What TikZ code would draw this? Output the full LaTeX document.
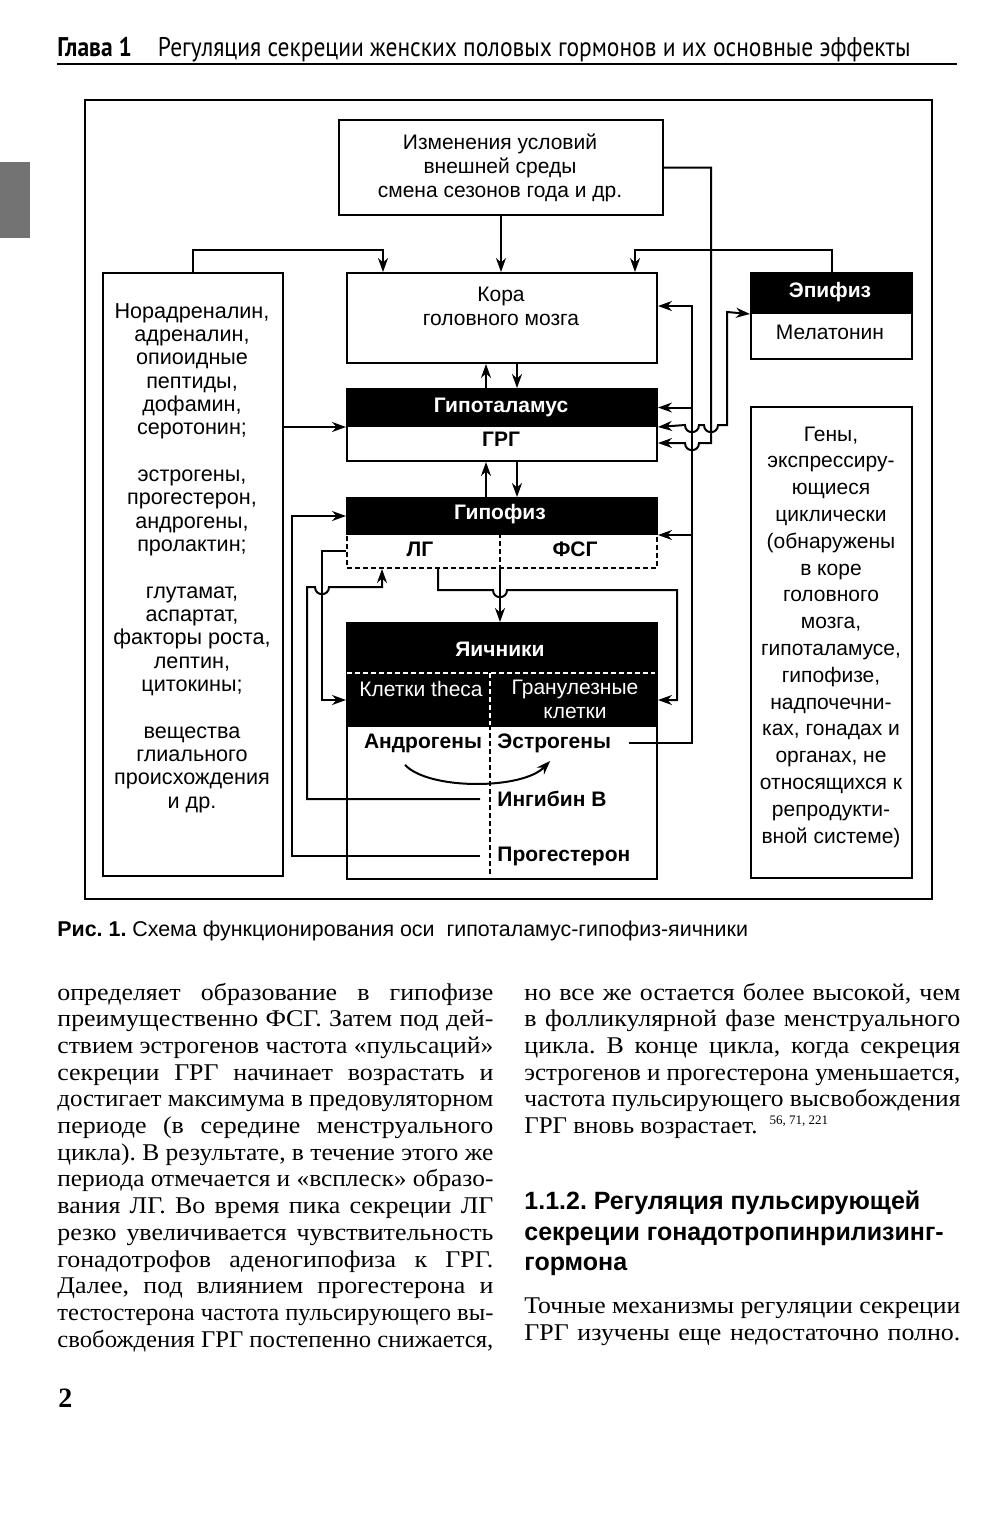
\documentclass[tikz,border=0pt]{standalone}
\usepackage{fontspec}
\usepackage{graphicx}
\setmainfont{Liberation Serif}
\setsansfont{Liberation Sans}
\newfontfamily\hdrfont[FakeStretch=0.87]{PT Sans}
\usetikzlibrary{arrows.meta}
\frenchspacing
\newlength\colw \setlength\colw{218pt}
\newdimen\jlw
\newcommand\jl[1]{\setbox0=\hbox{#1}%
  \ifdim\wd0>\colw \resizebox{\colw}{\height}{#1}%
  \else
    \jlw=\dimexpr\colw*100/108\relax
    \ifdim\wd0>\jlw \resizebox{\colw}{\height}{#1}%
    \else \resizebox{\colw}{\height}{\makebox[\jlw][s]{#1}}%
    \fi
  \fi}
\begin{document}
\begin{tikzpicture}[x=0.5pt,y=-0.5pt,
  box/.style={draw, line width=1pt, inner sep=0pt, anchor=north west},
  blk/.style={box, fill=black},
  arr/.style={line width=1pt, -{Stealth[length=7pt,width=5pt]}},
  darr/.style={line width=1pt, {Stealth[length=7pt,width=5pt]}-{Stealth[length=7pt,width=5pt]}},
  ln/.style={line width=1pt},
  dt/.style={font=\sffamily\fontsize{10.5}{12}\selectfont, inner sep=0pt, align=center},
  wb/.style={dt, text=white, font=\sffamily\bfseries\fontsize{10.5}{12}\selectfont},
  bb/.style={dt, font=\sffamily\bfseries\fontsize{10.5}{12}\selectfont},
  body/.style={anchor=base west, inner sep=0pt, font=\fontsize{12}{13.35}\selectfont},
  dsh/.style={dash pattern=on 2.5pt off 1.5pt}]
\useasboundingbox (0,0) rectangle (1000,1522);

% header
\node[anchor=base west, inner sep=0pt] (hdr) at (57,56) {\hdrfont\fontsize{13.5}{15}\selectfont\textbf{Глава 1}\hspace{13pt}Регуляция секреции женских половых гормонов и их основные эффекты};
\draw[line width=0.7pt] (57,64) -- (957,64);
\fill[black!55] (0,162) rectangle (30,238);

% frame
\node[box, line width=0.8pt, minimum width=423.5pt, minimum height=399.5pt] (frame) at (84,99) {};

% boxes
\node[box, minimum width=162pt, minimum height=47.5pt] (env) at (338,119) {};
\node[dt] (envT) at (500,168) {Изменения условий\\внешней среды\\смена сезонов года и др.};
\node[box, minimum width=155pt, minimum height=45pt] (kora) at (346,272) {};
\node[dt] (koraT) at (501,306) {Кора\\головного мозга};
\node[box, minimum width=90pt, minimum height=301.5pt] (lbox) at (102,272) {};
\node[dt, font=\sffamily\fontsize{10.8}{11.67}\selectfont] (lboxT) at (192,558) {Норадреналин,\\адреналин,\\опиоидные\\пептиды,\\дофамин,\\серотонин;\\[11.67pt]эстрогены,\\прогестерон,\\андрогены,\\пролактин;\\[11.67pt]глутамат,\\аспартат,\\факторы роста,\\лептин,\\цитокины;\\[11.67pt]вещества\\глиального\\происхождения\\и др.};
\node[blk, minimum width=80.5pt, minimum height=20pt] (epiT) at (750,272) {};
\node[wb] (epiL) at (830,292) {Эпифиз};
\node[box, minimum width=80.5pt, minimum height=23pt] (epiB) at (750,312) {};
\node[dt] (epiM) at (830,332) {Мелатонин};
\node[box, minimum width=80.5pt, minimum height=235.5pt] (gbox) at (750,406) {};
\node[dt, font=\sffamily\fontsize{10.5}{13.4}\selectfont] (gboxT) at (831,637) {Гены,\\экспрессиру-\\ющиеся\\циклически\\(обнаружены\\в коре\\головного\\мозга,\\гипоталамусе,\\гипофизе,\\надпочечни-\\ках, гонадах и\\органах, не\\относящихся к\\репродукти-\\вной системе)};

\node[blk, minimum width=155pt, minimum height=18.5pt] (hypT) at (346,388) {};
\node[wb] (hypL) at (501,407) {Гипоталамус};
\node[box, minimum width=155pt, minimum height=17.5pt] (hypB) at (346,425) {};
\node[bb] (grg) at (501,439) {ГРГ};

\node[blk, minimum width=155pt, minimum height=18pt] (gipT) at (346,497) {};
\node[wb] (gipL) at (500,514) {Гипофиз};
\node[box, dsh, minimum width=155pt, minimum height=17pt] (gipB) at (346,533) {};
\draw[ln, dsh] (500,533) -- (500,567);
\node[bb] (lg) at (420,549) {ЛГ};
\node[bb] (fsg) at (575,549) {ФСГ};

\node[blk, minimum width=155pt, minimum height=51.5pt] (yT) at (346,622) {};
\node[box, minimum width=155pt, minimum height=76.5pt] (yB) at (346,725) {};
\node[wb] (yL) at (500,649) {Яичники};
\draw[ln, white, dsh] (347,673) -- (655,673);
\draw[ln, white, dsh] (490,673) -- (490,725);
\draw[ln, dsh] (490,725) -- (490,877);
\node[dt, text=white] (theca) at (421,689) {Клетки theca};
\node[dt, text=white] (gran) at (575,699) {Гранулезные\\клетки};
\node[bb] (andro) at (423,743) {Андрогены};
\node[bb, anchor=west] (estr) at (497,743) {Эстрогены};
\node[bb, anchor=west] (ingib) at (497,799) {Ингибин В};
\node[bb, anchor=west] (prog) at (497,856) {Прогестерон};

% connectors
\draw[arr] (env.south) -- (env.south |- kora.north);
\draw[arr] (lbox.north) |- (383,250) -- (383,250 |- kora.north);
\draw[arr] (epiT.north) |- (635,250) -- (635,250 |- kora.north);
\draw[arr] ([xshift=-8pt]kora.south |- hypT.north) -- ([xshift=-8pt]kora.south);
\draw[arr] ([xshift=7.5pt]kora.south) -- ([xshift=7.5pt]kora.south |- hypT.north);
\draw[arr] ([xshift=-8pt]hypB.south |- gipT.north) -- ([xshift=-8pt]hypB.south);
\draw[arr] ([xshift=7.5pt]hypB.south) -- ([xshift=7.5pt]hypB.south |- gipT.north);
\draw[arr] (lbox.east |- hypT.south west) -- (hypT.south west);

% estrogen feedback (x=692)
\draw[arr] ([xshift=9pt]estr.east) -| (692,306) -- (692,306 -| kora.east);
\draw[arr] (692,0 |- hypT.east) -- (hypT.east);
\draw[arr] (692,0 |- gipT.south east) -- (gipT.south east);
% environment -> hypothalamus (x=711)
\draw[arr] (env.east) -- (711,0 |- env.east) -- (711,443) -- (699,443)
   .. controls (699,452.5) and (685,452.5) .. (685,443) -- (hypB.east |- 0,443);
% hypothalamus <-> epiphysis (x=727)
\draw[darr] (hypT.south east) -- (685,425) .. controls (685,434.5) and (699,434.5) .. (699,425)
   -- (704,425) .. controls (704,434.5) and (718,434.5) .. (718,425) -- (727,425) -- (727,312) -- (epiT.south west);

% pituitary -> ovaries
\draw[arr] (gipB.west) -| (322,700) -- (322,700 -| yT.west);
\draw[arr] (438,0 |- gipB.south) -- (438,590) -- (493,590) .. controls (493,599.5) and (507,599.5) .. (507,590)
   -- (677,590) -- (677,700) -- (677,700 -| yT.east);
\draw[arr] (500,0 |- gipB.south) -- (500,0 |- yT.north);
% inhibin B
\draw[arr] ([xshift=-8.5pt]ingib.west) -- (307,0 |- ingib.west) -- (307,587) -- (315,587)
   .. controls (315,596.5) and (329,596.5) .. (329,587) -- (382,587) -- (382,0 |- gipB.south);
% progesterone
\draw[arr] ([xshift=-8.5pt]prog.west) -- (292,0 |- prog.west) -- (292,0 |- gipT.west) -- (gipT.west);
% androgens -> estrogens
\draw[arr] ([xshift=-9pt,yshift=-6pt]andro.south) .. controls (428,790) and (522,790) .. ([xshift=-2pt,yshift=-4pt]estr.south);

% caption
\node[anchor=base west, inner sep=0pt, font=\sffamily\fontsize{10.7}{12}\selectfont] (cap) at (57,936) {\textbf{Рис. 1.} Схема функционирования оси\ \ гипоталамус-гипофиз-яичники};

% left column
\node[body] (l1) at (57,1000) {\jl{определяет образование в гипофизе}};
\node[body] (l2) at (57,1026.7) {\jl{преимущественно ФСГ. Затем под дей-}};
\node[body] (l3) at (57,1053.4) {\jl{ствием эстрогенов частота «пульсаций»}};
\node[body] (l4) at (57,1080.1) {\jl{секреции ГРГ начинает возрастать и}};
\node[body] (l5) at (57,1106.8) {\jl{достигает максимума в предовуляторном}};
\node[body] (l6) at (57,1133.5) {\jl{периоде (в середине менструального}};
\node[body] (l7) at (57,1160.2) {\jl{цикла). В результате, в течение этого же}};
\node[body] (l8) at (57,1186.9) {\jl{периода отмечается и «всплеск» образо-}};
\node[body] (l9) at (57,1213.6) {\jl{вания ЛГ. Во время пика секреции ЛГ}};
\node[body] (l10) at (57,1240.3) {\jl{резко увеличивается чувствительность}};
\node[body] (l11) at (57,1267) {\jl{гонадотрофов аденогипофиза к ГРГ.}};
\node[body] (l12) at (57,1293.7) {\jl{Далее, под влиянием прогестерона и}};
\node[body] (l13) at (57,1320.4) {\jl{тестостерона частота пульсирующего вы-}};
\node[body] (l14) at (57,1347.1) {\jl{свобождения ГРГ постепенно снижается,}};

% right column
\node[body] (r1) at (524,1000) {\jl{но все же остается более высокой, чем}};
\node[body] (r2) at (524,1026.7) {\jl{в фолликулярной фазе менструального}};
\node[body] (r3) at (524,1053.4) {\jl{цикла. В конце цикла, когда секреция}};
\node[body] (r4) at (524,1080.1) {\jl{эстрогенов и прогестерона уменьшается,}};
\node[body] (r5) at (524,1106.8) {\jl{частота пульсирующего высвобождения}};
\node[body] (r6) at (524,1133.5) {\scalebox{1.04}[1]{ГРГ вновь возрастает.}\hspace{6pt}\textsuperscript{\fontsize{6.5}{7}\selectfont 56, 71, 221}};
\node[anchor=base west, inner sep=0pt, font=\sffamily\bfseries\fontsize{12.5}{15.5}\selectfont] (h1) at (524,1209) {1.1.2. Регуляция пульсирующей};
\node[anchor=base west, inner sep=0pt, font=\sffamily\bfseries\fontsize{12.5}{15.5}\selectfont] (h2) at (524,1240) {секреции гонадотропинрилизинг-};
\node[anchor=base west, inner sep=0pt, font=\sffamily\bfseries\fontsize{12.5}{15.5}\selectfont] (h3) at (524,1270) {гормона};
\node[body] (r7) at (524,1313) {\jl{Точные механизмы регуляции секреции}};
\node[body] (r8) at (524,1340) {\jl{ГРГ изучены еще недостаточно полно.}};

% page number
\node[anchor=base west, inner sep=0pt, font=\bfseries\fontsize{14}{16}\selectfont] (pg) at (58,1407) {2};
\end{tikzpicture}
\end{document}
